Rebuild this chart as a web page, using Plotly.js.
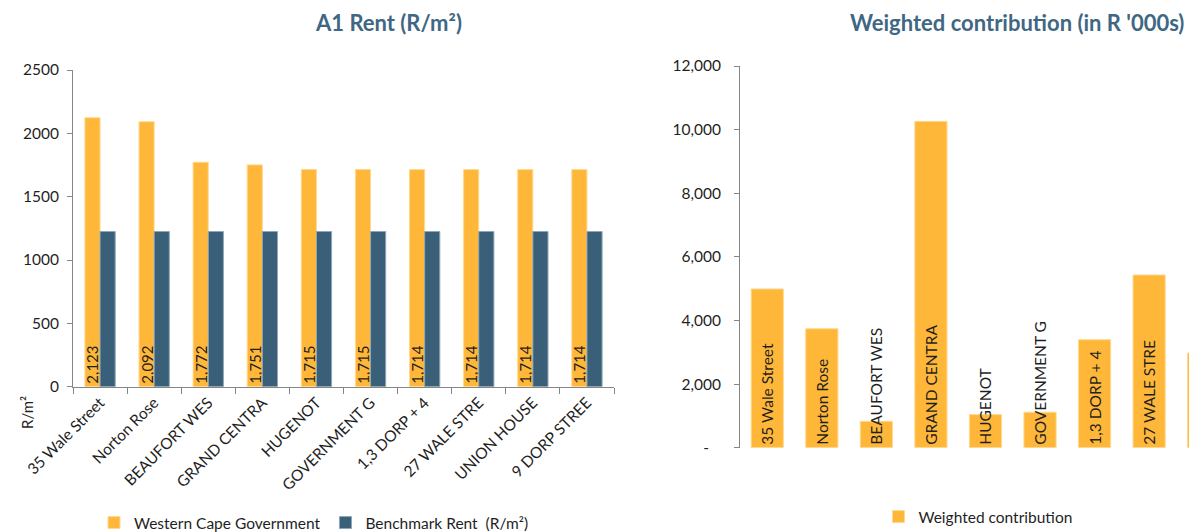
<!DOCTYPE html>
<html>
<head>
<meta charset="utf-8">
<script src="https://cdn.plot.ly/plotly-3.0.1.min.js"></script>
<style>
  html, body { margin: 0; padding: 0; overflow: hidden; background: #fff; }
  #chart { width: 1300px; height: 560px; }
</style>
</head>
<body>
<div id="chart"></div>
<script>
// ---- data ----
const categories = ['35 Wale Street', 'Norton Rose', 'BEAUFORT WES', 'GRAND CENTRA', 'HUGENOT',
                    'GOVERNMENT G', '1,3 DORP + 4', '27 WALE STRE', 'UNION HOUSE', '9 DORP STREE'];
const wcgRent = [2123, 2092, 1772, 1751, 1715, 1715, 1714, 1714, 1714, 1714];
const benchmarkRent = [1225, 1225, 1225, 1225, 1225, 1225, 1225, 1225, 1225, 1225];
// weighted contribution (R '000s); only the visible bars of the cropped chart
const weighted = [4990, 3740, 830, 10260, 1040, 1115, 3395, 5430, 2975];
const rightTicks = [0, 2000, 4000, 6000, 8000, 10000, 12000];
const rightTickText = ['-\u00a0\u00a0\u00a0', '2,000', '4,000', '6,000', '8,000', '10,000', '12,000'];

// ---- layout helpers (figure is larger than the window; the window crops it) ----
const W = 1300, H = 560;
const px = v => v / W;
const py = v => (H - v) / H;

const ORANGE = '#FFB739';
const BLUE = '#3A6079';
const TITLE = '#3F6784';
const AXIS = '#868686';
const FONT = 'Lato, "Open Sans", sans-serif';
const TXT = '#1f1f1f';

const traces = [
  {
    type: 'bar', name: 'Western Cape Government', x: categories, y: wcgRent,
    xaxis: 'x', yaxis: 'y', legend: 'legend',
    marker: { color: ORANGE, line: { color: '#FFD98F', width: 1 } },
    width: 0.28, offset: -0.28,
    texttemplate: '%{y:,.0f}', textposition: 'inside', insidetextanchor: 'start',
    textangle: -90, constraintext: 'none',
    insidetextfont: { family: FONT, size: 15, color: TXT },
    hoverinfo: 'skip'
  },
  {
    type: 'bar', name: 'Benchmark Rent  (R/m²)', x: categories, y: benchmarkRent,
    xaxis: 'x', yaxis: 'y', legend: 'legend',
    marker: { color: BLUE, line: { color: '#8FA6B6', width: 1 } },
    width: 0.28, offset: 0,
    hoverinfo: 'skip'
  },
  {
    type: 'bar', name: 'Weighted contribution', x: categories.slice(0, weighted.length), y: weighted,
    xaxis: 'x2', yaxis: 'y2', legend: 'legend2',
    marker: { color: ORANGE, line: { color: '#FFD98F', width: 1 } },
    width: 0.59, offset: -0.295,
    texttemplate: '%{x}', textposition: 'inside', insidetextanchor: 'start',
    textangle: -90, constraintext: 'none',
    insidetextfont: { family: FONT, size: 15.5, color: TXT },
    hoverinfo: 'skip'
  }
];

const layout = {
  width: W, height: H,
  margin: { l: 0, r: 0, t: 0, b: 0 },
  paper_bgcolor: '#fff', plot_bgcolor: 'rgba(0,0,0,0)',
  font: { family: FONT, size: 15, color: TXT },
  barmode: 'group',
  xaxis: {
    domain: [px(73), px(614)], anchor: 'y', type: 'category',
    range: [-0.5, 9.5], showline: true, linecolor: AXIS, linewidth: 1,
    ticks: 'outside', tickson: 'boundaries', ticklen: 6, tickcolor: AXIS,
    tickangle: -45, tickfont: { family: FONT, size: 15.5, color: TXT },
    showgrid: false, zeroline: false, fixedrange: true
  },
  yaxis: {
    domain: [py(386.7), py(70)], anchor: 'x',
    range: [0, 2500], dtick: 500, showline: true, linecolor: AXIS, linewidth: 1,
    ticks: 'outside', ticklen: 5, tickcolor: AXIS, ticklabelstandoff: 5,
    tickfont: { family: FONT, size: 15.5, color: TXT },
    showgrid: false, zeroline: false, fixedrange: true
  },
  xaxis2: {
    domain: [px(740), px(1285.5)], anchor: 'y2', type: 'category',
    range: [-0.5, 9.5], showline: false, showticklabels: false, ticks: '',
    showgrid: false, zeroline: false, fixedrange: true
  },
  yaxis2: {
    domain: [py(447.7), py(66)], anchor: 'x2',
    range: [0, 12000], tickvals: rightTicks, ticktext: rightTickText,
    showline: true, linecolor: AXIS, linewidth: 1,
    ticks: 'outside', ticklen: 5, tickcolor: AXIS, ticklabelstandoff: 10,
    tickfont: { family: FONT, size: 15.5, color: TXT },
    showgrid: false, zeroline: false, fixedrange: true
  },
  legend: {
    orientation: 'h', x: px(314), xanchor: 'center', y: py(523), yanchor: 'middle',
    font: { family: FONT, size: 15.5, color: TXT }, bgcolor: 'rgba(0,0,0,0)'
  },
  legend2: {
    orientation: 'h', x: px(978), xanchor: 'center', y: py(517), yanchor: 'middle',
    font: { family: FONT, size: 15.5, color: TXT }, bgcolor: 'rgba(0,0,0,0)'
  },
  annotations: [
    { text: '<b>A1 Rent (R/m²)</b>', xref: 'paper', yref: 'paper', x: px(388), y: py(23),
      xanchor: 'center', yanchor: 'middle', showarrow: false,
      font: { family: FONT, size: 22, color: TITLE } },
    { text: "<b>Weighted contribution (in R '000s)</b>", xref: 'paper', yref: 'paper', x: px(1017), y: py(23),
      xanchor: 'center', yanchor: 'middle', showarrow: false,
      font: { family: FONT, size: 22, color: TITLE } },
    { text: 'R/m²', xref: 'paper', yref: 'paper', x: px(27), y: py(413),
      xanchor: 'center', yanchor: 'middle', showarrow: false, textangle: -90,
      font: { family: FONT, size: 15, color: TXT } }
  ]
};

Plotly.newPlot('chart', traces, layout, { staticPlot: true, displayModeBar: false });
</script>
</body>
</html>
